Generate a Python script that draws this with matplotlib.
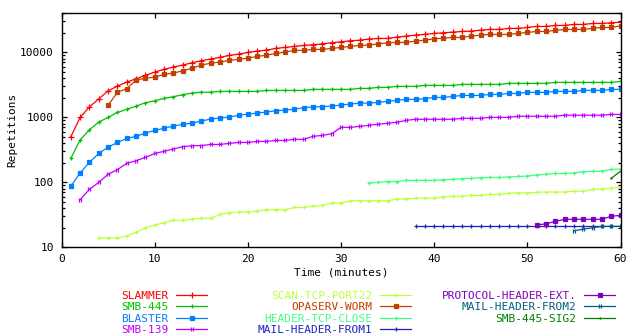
import matplotlib
matplotlib.use("Agg")
import matplotlib.pyplot as plt
from matplotlib.path import Path
from matplotlib.ticker import FixedLocator, FixedFormatter, LogLocator, NullFormatter

plt.rcParams["font.family"] = ["DejaVu Sans Mono"]
plt.rcParams["font.size"] = 8

# ---- data: repetitions per minute for each signature ----
slammer_min = list(range(1, 61))
slammer = [500, 1000, 1450, 1930, 2560, 3030, 3490, 3920, 4430, 4980,
           5480, 5940, 6380, 6920, 7450, 7890, 8380, 8990, 9420, 10000,
           10480, 10850, 11520, 11940, 12370, 12820, 13100, 13560, 14060, 14560,
           15080, 15450, 16020, 16400, 16400, 17190, 17810, 18450, 18980, 19590,
           20040, 20530, 21030, 21270, 22040, 22580, 22580, 23390, 23390, 24240,
           25110, 25110, 26020, 26020, 26960, 26960, 27920, 27920, 28560, 29250]

smb445_min = list(range(1, 61))
smb445 = [234, 448, 645, 847, 1000, 1190, 1330, 1490, 1680, 1800,
          1960, 2080, 2230, 2370, 2440, 2440, 2510, 2510, 2510, 2510,
          2510, 2600, 2600, 2600, 2600, 2600, 2700, 2700, 2700, 2700,
          2700, 2795, 2795, 2895, 2895, 3000, 3000, 3000, 3105, 3105,
          3105, 3105, 3220, 3220, 3220, 3220, 3220, 3335, 3335, 3335,
          3335, 3335, 3455, 3455, 3455, 3455, 3455, 3455, 3455, 3580]

blaster_min = list(range(1, 61))
blaster = [87, 140, 203, 278, 348, 411, 473, 510, 573, 630,
           678, 735, 780, 817, 875, 942, 976, 1011, 1075, 1125,
           1165, 1206, 1263, 1294, 1341, 1406, 1455, 1455, 1493, 1546,
           1603, 1660, 1660, 1700, 1763, 1826, 1891, 1891, 1946, 2028,
           2028, 2100, 2178, 2178, 2178, 2257, 2257, 2338, 2338, 2425,
           2425, 2425, 2510, 2510, 2510, 2600, 2600, 2600, 2700, 2700]

smb139_min = list(range(2, 61))
smb139 = [54, 78, 100, 133, 157, 196, 215, 242, 278,
          300, 326, 353, 366, 368, 383, 383, 397, 411, 411,
          426, 426, 441, 441, 459, 459, 510, 528, 559, 701,
          701, 728, 755, 785, 810, 840, 900, 935, 935, 935,
          935, 935, 967, 967, 967, 1000, 1000, 1000, 1040, 1040,
          1040, 1040, 1040, 1080, 1080, 1080, 1080, 1080, 1110, 1110]

scan22_min = list(range(4, 61))
scan22 = [14, 14, 14, 15, 17, 20, 22,
          24, 26, 26, 27, 28, 28, 32, 34, 35, 35,
          36, 38, 38, 38, 41, 41, 43, 44, 48, 48,
          52, 52, 52, 52, 52, 55, 56, 57, 57, 57,
          60, 61, 61, 63, 63, 65, 65, 68, 69, 69,
          70, 71, 71, 71, 73, 73, 78, 79, 81, 84]

opaserv_min = list(range(5, 61))
opaserv = [1530, 2430, 2770, 3750, 3990, 4170,
           4590, 4800, 5200, 5700, 6350, 6840, 7090, 7530, 7800, 8170,
           8670, 9080, 9650, 10110, 10740, 10740, 11130, 11130, 11520, 11940,
           12370, 12820, 12950, 13560, 14060, 14250, 14250, 14920, 15450, 16190,
           16600, 17000, 17000, 17810, 18450, 18900, 18900, 18900, 19590, 20290,
           21030, 21030, 21790, 22580, 22580, 22580, 23390, 24240, 24240, 25700]

tcp_close_min = list(range(33, 61))
tcp_close = [97, 100, 103, 103, 107, 107, 107, 107,
             110, 111, 114, 115, 118, 119, 119, 121, 123, 125,
             130, 133, 137, 137, 139, 146, 148, 148, 158, 160]

mail_from1_min = list(range(38, 61))
mail_from1 = [21] * 23

protocol_ext_min = list(range(51, 61))
protocol_ext = [22, 23, 25, 27, 27, 27, 27, 27, 30, 31]

mail_from2_min = list(range(55, 61))
mail_from2 = [18, 19, 20, 21, 21, 21]

smb445_sig2_min = [59, 60]
smb445_sig2 = [115, 148]

y_ticks = [10, 100, 1000, 10000]
y_tick_labels = ["10", "100", "1000", "10000"]
x_ticks = [0, 10, 20, 30, 40, 50, 60]

# double vertical tick marker
dbl = Path([(-0.45, -1), (-0.45, 1), (0.45, -1), (0.45, 1)],
           [Path.MOVETO, Path.LINETO, Path.MOVETO, Path.LINETO])

series = [
    ("SLAMMER", slammer_min, slammer, "#ff0000", "+", 4.0),
    ("SMB-445", smb445_min, smb445, "#00c000", "+", 3.5),
    ("BLASTER", blaster_min, blaster, "#0080ff", "s", 2.8),
    ("SMB-139", smb139_min, smb139, "#c000ff", dbl, 3.5),
    ("SCAN-TCP-PORT22", scan22_min, scan22, "#c0ff40", "+", 2.5),
    ("OPASERV-WORM", opaserv_min, opaserv, "#c04000", "s", 2.8),
    ("HEADER-TCP-CLOSE", tcp_close_min, tcp_close, "#40ff80", "+", 3.5),
    ("MAIL-HEADER-FROM1", mail_from1_min, mail_from1, "#2020c0", "+", 3.5),
    ("PROTOCOL-HEADER-EXT.", protocol_ext_min, protocol_ext, "#8000c0", "s", 2.8),
    ("MAIL-HEADER-FROM2", mail_from2_min, mail_from2, "#006080", dbl, 3.0),
    ("SMB-445-SIG2", smb445_sig2_min, smb445_sig2, "#008000", ".", 1.5),
]

fig = plt.figure(figsize=(6.4, 3.36), dpi=100)
W, H = 640.0, 336.0
ax = fig.add_axes([61.5 / W, 1 - 247.3 / H, (620.5 - 61.5) / W, (247.3 - 13.3) / H])

handles = []
for name, xs, ys, col, mk, ms in series:
    (ln,) = ax.plot(xs, ys, color=col, lw=0.9, marker=mk, ms=ms,
                    mew=0.9, mfc=col, mec=col, label=name)
    handles.append(ln)

ax.set_yscale("log")
ax.set_xlim(0, 60)
ax.set_ylim(10, 40000)
ax.yaxis.set_major_locator(FixedLocator(y_ticks))
ax.yaxis.set_major_formatter(FixedFormatter(y_tick_labels))
ax.yaxis.set_minor_locator(LogLocator(base=10, subs=range(2, 10)))
ax.yaxis.set_minor_formatter(NullFormatter())
ax.xaxis.set_major_locator(FixedLocator(x_ticks))

for s in ax.spines.values():
    s.set_linewidth(1.0)
ax.tick_params(which="both", direction="in", top=True, right=True,
               width=0.9, labelsize=8)
ax.tick_params(which="major", length=3.8)
ax.tick_params(which="minor", length=2.2)
ax.tick_params(axis="y", pad=5.5)
ax.tick_params(axis="x", pad=4.5)

ax.set_xlabel("Time (minutes)", labelpad=3)
ax.set_ylabel("Repetitions", labelpad=2)

# three-column key with right-justified labels
cols = [handles[0:4], handles[4:8], handles[8:11]]
col_right = [207.0, 411.0, 615.0]
for hs, xr in zip(cols, col_right):
    fig.legend(handles=hs, labels=[h.get_label() for h in hs],
               loc="upper right", bbox_to_anchor=(xr / W, 1 - 291.0 / H),
               bbox_transform=fig.transFigure, frameon=False,
               markerfirst=False, handlelength=2.75, handletextpad=0.7,
               borderpad=0, borderaxespad=0, labelspacing=0.12,
               labelcolor="linecolor", fontsize=8)

fig.savefig("out.png", dpi=100)
